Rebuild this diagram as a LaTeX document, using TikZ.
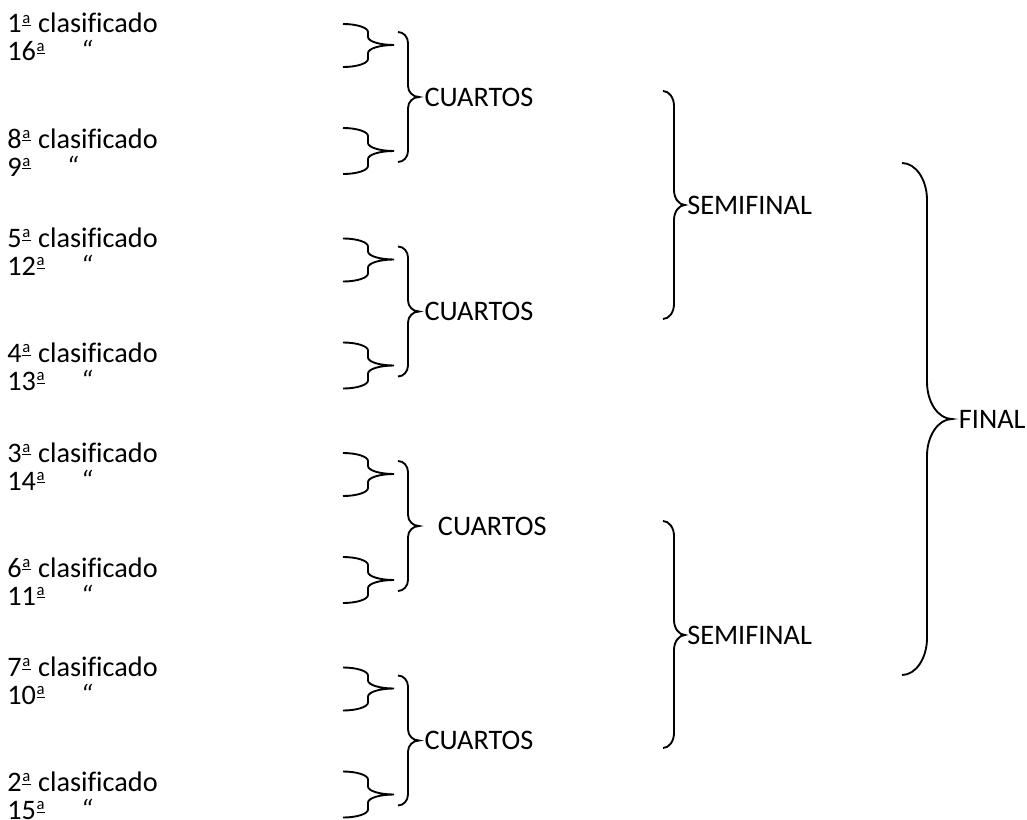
\documentclass[tikz,border=0pt]{standalone}
\usepackage{fontspec}
\setmainfont{Carlito}[Ligatures=NoCommon]
\usetikzlibrary{calc}

% llave: name, left end, spine, tip, top, middle, bottom, curve radius
\newcommand{\llave}[8]{%
  \draw[klammer] (#2,#5) .. controls ({#2+0.55*(#3-#2)},#5) and (#3,{#5+0.45*#8}) .. (#3,{#5+#8})
    -- (#3,{#6-#8}) .. controls (#3,{#6-0.45*#8}) and ({#4-0.55*(#4-#3)},#6) .. (#4,#6)
    .. controls ({#4-0.55*(#4-#3)},#6) and (#3,{#6+0.45*#8}) .. (#3,{#6+#8})
    -- (#3,{#7-#8}) .. controls (#3,{#7-0.45*#8}) and ({#2+0.55*(#3-#2)},#7) .. (#2,#7);
  \coordinate (#1) at (#4,#6);}
% underlined ordinal a
\newcommand{\ord}{\kern0.6pt\rlap{\raisebox{7.3pt}{\fontsize{12.5}{12}\selectfont a}}\raisebox{4.9pt}{\rule{6.2pt}{0.9pt}}\kern0.8pt}

\tikzset{
  klammer/.style={black, line width=1.4pt},
  equipo/.style={anchor=base west, inner sep=0pt, font=\fontsize{21.2}{25}\selectfont},
  etapa/.style={anchor=west, inner sep=0pt, font=\fontsize{21.2}{25}\selectfont}
}

\begin{document}
\begin{tikzpicture}[x=0.75pt, y=-0.75pt]

    \useasboundingbox (0,0) rectangle (1027,820);

    % octavos y cuartos
    \foreach \g/\dx/\pa/\pb/\pc/\pd in {0/4/1/16/8/9, 1/4/5/12/4/13, 2/14/3/14/6/11, 3/4/7/10/2/15}{
        \pgfmathsetmacro\oy{214.5*\g}
        \node[equipo] (e\pa) at (7,\oy+33) {\pa\ord{} clasificado};
        \node[equipo] (e\pb) at (7,\oy+61) {\pb\ord\hspace{26pt}\textit{“}};
        \node[equipo] (e\pc) at (7,\oy+148) {\pc\ord{} clasificado};
        \node[equipo] (e\pd) at (7,\oy+176) {\pd\ord\hspace{26pt}\textit{“}};
        \llave{k\pa}{343}{368}{394}{\oy+24}{\oy+45}{\oy+67}{8}
        \llave{k\pc}{343}{368}{394}{\oy+128}{\oy+151}{\oy+174}{8}
        \llave{q\g}{398}{408}{419}{\oy+32}{\oy+97}{\oy+162}{11}
        \node[etapa] (cuartos\g) at ([xshift=\dx pt]q\g) {CUARTOS};
    }

    % semifinales
    \llave{s1}{663}{674}{685}{91}{205}{319}{15}
    \llave{s2}{663}{674}{685}{521}{635}{748}{15}
    \node[etapa] (semi1) at ([xshift=1.5pt]s1) {SEMIFINAL};
    \node[etapa] (semi2) at ([xshift=1.5pt]s2) {SEMIFINAL};

    % final
    \llave{f}{902}{927}{952}{163}{419}{675}{37}
    \node[etapa] (final) at ([xshift=5pt]f) {FINAL};

\end{tikzpicture}
\end{document}
